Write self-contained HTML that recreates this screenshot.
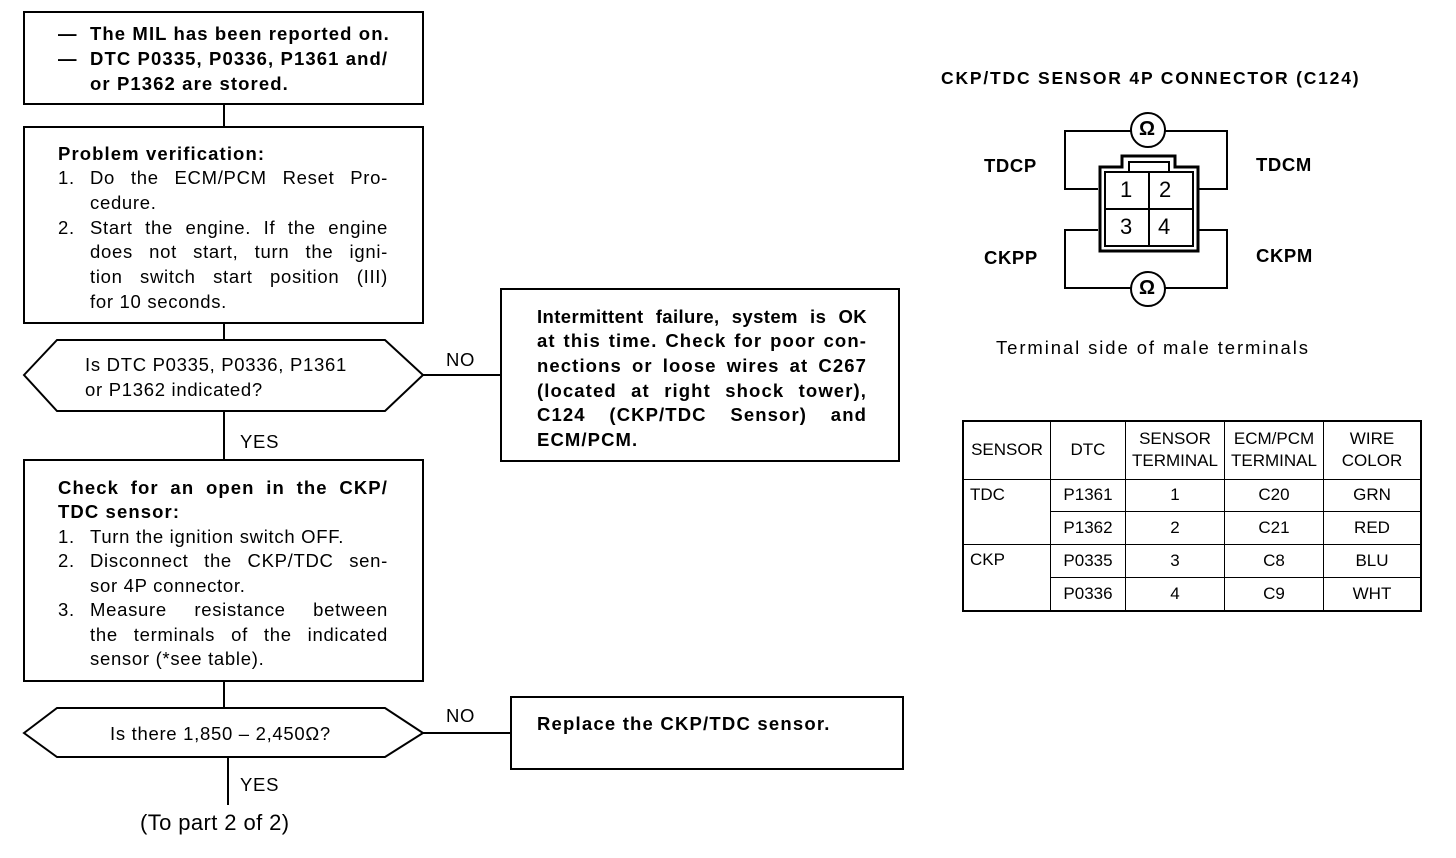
<!DOCTYPE html>
<html><head><meta charset="utf-8"><style>
body{margin:0;background:#fff;width:1456px;height:858px;position:relative;overflow:hidden;font-family:"Liberation Sans",Arial,sans-serif;color:#000}
.t{position:absolute;font-size:18.5px;line-height:24.6px;white-space:nowrap;letter-spacing:0.7px}
.b{font-weight:bold;letter-spacing:1.1px}
.j{text-align:justify;text-align-last:justify;white-space:normal}
svg{position:absolute;left:0;top:0}
td{border:1.5px solid #000;font-size:17px;text-align:center;padding:0;line-height:22px}
</style></head><body>
<svg width="1456" height="858" fill="none" stroke="#000" stroke-width="2">
<rect x="24" y="12" width="399" height="92"/>
<line x1="224" y1="104" x2="224" y2="127"/>
<rect x="24" y="127" width="399" height="196"/>
<line x1="224" y1="323" x2="224" y2="340"/>
<polygon points="24,375 57,340 385,340 423,375 385,411 57,411"/>
<line x1="224" y1="411" x2="224" y2="460"/>
<line x1="423" y1="375" x2="501" y2="375"/>
<rect x="501" y="289" width="398" height="172"/>
<rect x="24" y="460" width="399" height="221"/>
<line x1="224" y1="681" x2="224" y2="708"/>
<polygon points="24,733 57,708 385,708 423,733 385,757 57,757"/>
<line x1="423" y1="733" x2="511" y2="733"/>
<rect x="511" y="697" width="392" height="72"/>
<line x1="228" y1="757" x2="228" y2="805"/>
<polyline points="1098,189 1065,189 1065,131 1131,131"/>
<polyline points="1165,131 1227,131 1227,189 1197,189"/>
<circle cx="1148" cy="130" r="17"/>
<polyline points="1098,230 1065,230 1065,288 1131,288"/>
<polyline points="1165,288 1227,288 1227,230 1197,230"/>
<circle cx="1148" cy="289" r="17"/>
<path d="M1100,251 L1100,167 L1122,167 L1122,156 L1175,156 L1175,167 L1198,167 L1198,251 Z" stroke-width="3"/>
<rect x="1105" y="172" width="88" height="74"/>
<rect x="1129" y="162" width="40" height="10"/>
<line x1="1149" y1="172" x2="1149" y2="246"/>
<line x1="1105" y1="209" x2="1193" y2="209"/>
</svg>
<div class="t b" style="left:58px;top:22px">—</div><div class="t b" style="left:90px;top:22px">The MIL has been reported on.</div>
<div class="t b" style="left:58px;top:47px">—</div><div class="t b" style="left:90px;top:47px">DTC P0335, P0336, P1361 and/</div>
<div class="t b" style="left:90px;top:72px">or P1362 are stored.</div>

<div class="t b" style="left:58px;top:142px">Problem verification:</div>
<div class="t" style="left:58px;top:166px">1.</div><div class="t j" style="left:90px;top:166px;width:298px">Do the ECM/PCM Reset Pro-</div>
<div class="t" style="left:90px;top:191px">cedure.</div>
<div class="t" style="left:58px;top:216px">2.</div><div class="t j" style="left:90px;top:216px;width:298px">Start the engine. If the engine</div>
<div class="t j" style="left:90px;top:240px;width:298px">does not start, turn the igni-</div>
<div class="t j" style="left:90px;top:265px;width:298px">tion switch start position (III)</div>
<div class="t" style="left:90px;top:290px">for 10 seconds.</div>

<div class="t" style="left:85px;top:353px">Is DTC P0335, P0336, P1361</div>
<div class="t" style="left:85px;top:378px">or P1362 indicated?</div>
<div class="t" style="left:446px;top:348px">NO</div>
<div class="t" style="left:240px;top:430px">YES</div>

<div class="t b j" style="left:537px;top:305px;width:330px;letter-spacing:0.4px">Intermittent failure, system is OK</div>
<div class="t b j" style="left:537px;top:329px;width:330px">at this time. Check for poor con-</div>
<div class="t b j" style="left:537px;top:354px;width:330px">nections or loose wires at C267</div>
<div class="t b j" style="left:537px;top:379px;width:330px">(located at right shock tower),</div>
<div class="t b j" style="left:537px;top:403px;width:330px">C124 (CKP/TDC Sensor) and</div>
<div class="t b" style="left:537px;top:428px">ECM/PCM.</div>

<div class="t b j" style="left:58px;top:476px;width:330px">Check for an open in the CKP/</div>
<div class="t b" style="left:58px;top:500px">TDC sensor:</div>
<div class="t" style="left:58px;top:525px">1.</div><div class="t" style="left:90px;top:525px">Turn the ignition switch OFF.</div>
<div class="t" style="left:58px;top:549px">2.</div><div class="t j" style="left:90px;top:549px;width:298px">Disconnect the CKP/TDC sen-</div>
<div class="t" style="left:90px;top:574px">sor 4P connector.</div>
<div class="t" style="left:58px;top:598px">3.</div><div class="t j" style="left:90px;top:598px;width:298px">Measure resistance between</div>
<div class="t j" style="left:90px;top:623px;width:298px">the terminals of the indicated</div>
<div class="t" style="left:90px;top:647px">sensor (*see table).</div>

<div class="t" style="left:110px;top:722px">Is there 1,850 – 2,450Ω?</div>
<div class="t" style="left:446px;top:704px">NO</div>
<div class="t" style="left:240px;top:773px">YES</div>
<div class="t" style="left:140px;top:811px;font-size:22px;letter-spacing:0.4px">(To part 2 of 2)</div>
<div class="t b" style="left:537px;top:712px;letter-spacing:1.2px">Replace the CKP/TDC sensor.</div>

<div class="t b" style="left:941px;top:66px;font-size:17.5px;letter-spacing:1.8px">CKP/TDC SENSOR 4P CONNECTOR (C124)</div>
<div class="t b" style="left:984px;top:154px;letter-spacing:0.6px">TDCP</div>
<div class="t b" style="left:1256px;top:153px;letter-spacing:0.6px">TDCM</div>
<div class="t b" style="left:984px;top:246px;letter-spacing:0.6px">CKPP</div>
<div class="t b" style="left:1256px;top:244px;letter-spacing:0.6px">CKPM</div>
<div class="t" style="left:1139px;top:117px;font-size:20px;font-weight:bold">Ω</div>
<div class="t" style="left:1139px;top:276px;font-size:20px;font-weight:bold">Ω</div>
<div class="t" style="left:1120px;top:178px;font-size:22px">1</div>
<div class="t" style="left:1159px;top:178px;font-size:22px">2</div>
<div class="t" style="left:1120px;top:215px;font-size:22px">3</div>
<div class="t" style="left:1158px;top:215px;font-size:22px">4</div>
<div class="t" style="left:996px;top:336px;font-size:18.5px;letter-spacing:1.9px">Terminal side of male terminals</div>

<table style="position:absolute;left:962px;top:420px;width:460px;height:192px;border-collapse:collapse;border:2px solid #000">
<tr style="height:58px"><td style="width:86px">SENSOR</td><td style="width:74px">DTC</td><td style="width:98px">SENSOR<br>TERMINAL</td><td style="width:98px">ECM/PCM<br>TERMINAL</td><td>WIRE<br>COLOR</td></tr>
<tr><td rowspan="2" style="text-align:left;vertical-align:top;padding:4px 0 0 6px">TDC</td><td>P1361</td><td>1</td><td>C20</td><td>GRN</td></tr>
<tr><td>P1362</td><td>2</td><td>C21</td><td>RED</td></tr>
<tr><td rowspan="2" style="text-align:left;vertical-align:top;padding:4px 0 0 6px">CKP</td><td>P0335</td><td>3</td><td>C8</td><td>BLU</td></tr>
<tr><td>P0336</td><td>4</td><td>C9</td><td>WHT</td></tr>
</table>
</body></html>
